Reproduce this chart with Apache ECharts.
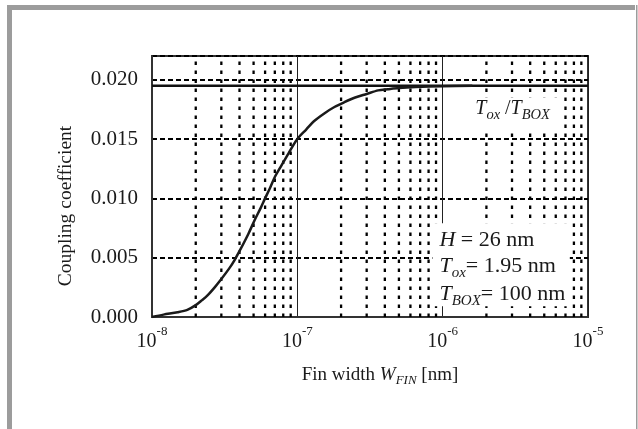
<!DOCTYPE html>
<html>
<head>
<meta charset="utf-8">
<script src="https://cdn.jsdelivr.net/npm/echarts@6/dist/echarts.min.js"></script>
<style>
  html, body { margin: 0; padding: 0; background: #fff; }
  #chart { width: 638px; height: 429px; }
</style>
</head>
<body>
<div id="chart"></div>
<script>
// Fin width (m) and the simulated coupling coefficient
const finWidth = [
  1e-8, 1.2e-8, 1.5e-8, 1.75e-8, 2.0e-8, 2.2e-8, 2.4e-8, 2.7e-8, 3.0e-8, 3.4e-8,
  3.7e-8, 4.1e-8, 4.6e-8, 5.1e-8, 5.6e-8, 6.0e-8, 6.5e-8, 7.0e-8, 7.8e-8, 8.7e-8,
  1.0e-7, 1.15e-7, 1.3e-7, 1.55e-7, 1.8e-7, 2.1e-7, 2.5e-7, 3.0e-7, 3.6e-7, 4.2e-7,
  5.0e-7, 6.5e-7, 1.0e-6, 1.6e-6
];
const coupling = [
  0.0000, 0.0002, 0.0004, 0.0006, 0.0010, 0.0014, 0.0018, 0.0025, 0.0032, 0.0041,
  0.0048, 0.0058, 0.0070, 0.0082, 0.0092, 0.0100, 0.0109, 0.0118, 0.0128, 0.0138,
  0.0150, 0.0158, 0.0165, 0.0172, 0.0177, 0.0181, 0.0185, 0.0188, 0.0191, 0.0192,
  0.0193, 0.01938, 0.01945, 0.0195
];
// Asymptote Tox / TBOX = 1.95 nm / 100 nm
const ratioLevel = 0.0195;
const xRange = [1e-8, 1e-5];
const yRange = [0, 0.022];
const yStep = 0.005;
const decadeStarts = [1e-8, 1e-7, 1e-6];
const minorSteps = [2, 3, 4, 5, 6, 7, 8, 9];
const annotLines = ['{i|H}{n| = 26 nm}', '{i|T}{s|ox}{n|= 1.95 nm}', '{i|T}{s|BOX}{n|= 100 nm}'];

const FONT = '"Liberation Serif", "Times New Roman", serif';
const INK = '#1a1a1a';

const chart = echarts.init(document.getElementById('chart'), null, { renderer: 'canvas' });

// dotted vertical grid at 2..9 x 10^n
const minorGridSeries = [];
decadeStarts.forEach(d => {
  minorSteps.forEach(k => {
    const x = k * d;
    minorGridSeries.push({
      type: 'line',
      data: [[x, yRange[0]], [x, yRange[1]]],
      symbol: 'none',
      silent: true,
      z: 1,
      lineStyle: { color: '#000', width: 2.3, type: [3.5, 5.5] }
    });
  });
});

const curve = finWidth.map((w, i) => [w, coupling[i]]);

chart.setOption({
  animation: false,
  backgroundColor: '#fff',
  grid: {
    left: 152, right: 50, top: 56, bottom: 112,
    show: true, borderColor: '#333', borderWidth: 2, backgroundColor: 'transparent'
  },
  xAxis: {
    type: 'log', logBase: 10, min: xRange[0], max: xRange[1],
    axisLine: { show: true, lineStyle: { color: '#333', width: 2 } },
    axisTick: { show: false },
    splitLine: { show: true, lineStyle: { color: '#222', width: 1, type: 'solid' } },
    axisLabel: {
      margin: 8,
      formatter: v => '{b|10}{p|' + Math.round(Math.log10(v)) + '}',
      rich: {
        b: { fontFamily: FONT, fontSize: 20, color: INK },
        p: { fontFamily: FONT, fontSize: 13, color: INK, padding: [0, 0, 20, 0] }
      }
    }
  },
  yAxis: {
    type: 'value', min: yRange[0], max: yRange[1], interval: yStep,
    axisLine: { show: true, lineStyle: { color: '#333', width: 2 } },
    axisTick: { show: false },
    splitLine: { show: true, lineStyle: { color: '#000', width: 2, type: [5, 3] } },
    axisLabel: {
      margin: 14, showMaxLabel: false,
      fontFamily: FONT, fontSize: 21, color: INK,
      formatter: v => v.toFixed(3)
    }
  },
  series: minorGridSeries.concat([
    {
      name: 'Tox/TBOX', type: 'line', symbol: 'none', silent: true, z: 3,
      data: [[xRange[0], ratioLevel], [xRange[1], ratioLevel]],
      lineStyle: { color: '#111', width: 2.5 }
    },
    {
      name: 'coupling', type: 'line', symbol: 'none', silent: true, z: 4,
      smooth: 0.3,
      data: curve,
      lineStyle: { color: '#1a1a1a', width: 2.5 }
    }
  ])
});

// annotation panels placed from data-space anchors
const px = (x, y) => chart.convertToPixel({ gridIndex: 0 }, [x, y]);
const paramTL = px(8.5e-7, 0.0079);
const paramBR = px(7.5e-6, 0.0009);
const ratioTL = px(1.5e-6, 0.0185);
const ratioBR = px(6.5e-6, 0.0159);

const panelRich = {
  n: { fontFamily: FONT, fontSize: 22, fill: INK, lineHeight: 25 },
  i: { fontFamily: FONT, fontSize: 22, fontStyle: 'italic', fill: INK, lineHeight: 25 },
  s: { fontFamily: FONT, fontSize: 15, fontStyle: 'italic', fill: INK, padding: [13, 0, 0, 0] }
};
const ratioRich = {
  n: { fontFamily: FONT, fontSize: 20, fill: INK, lineHeight: 24 },
  i: { fontFamily: FONT, fontSize: 20, fontStyle: 'italic', fill: INK, lineHeight: 24 },
  s: { fontFamily: FONT, fontSize: 14.5, fontStyle: 'italic', fill: INK, padding: [13, 0, 0, 0] }
};

const graphics = [
  // page frame
  { type: 'rect', shape: { x: 7, y: 5, width: 5, height: 424 }, style: { fill: '#9c9c9c' }, z: 200 },
  { type: 'rect', shape: { x: 7, y: 5, width: 628, height: 5 }, style: { fill: '#9c9c9c' }, z: 200 },
  { type: 'rect', shape: { x: 636, y: 5, width: 1.5, height: 424 }, style: { fill: '#9c9c9c' }, z: 200 },
  // parameter panel
  {
    type: 'rect',
    shape: { x: paramTL[0], y: paramTL[1], width: paramBR[0] - paramTL[0], height: paramBR[1] - paramTL[1] },
    style: { fill: '#fff' }, z: 100
  },
  {
    type: 'text', x: paramTL[0] + 7, y: paramTL[1] + 4, z: 101,
    style: {
      text: annotLines.join('\n'),
      rich: panelRich, fill: INK, font: '22px ' + FONT,
      textAlign: 'left', textVerticalAlign: 'top'
    }
  },
  // asymptote label
  {
    type: 'rect',
    shape: { x: ratioTL[0], y: ratioTL[1], width: ratioBR[0] - ratioTL[0], height: ratioBR[1] - ratioTL[1] },
    style: { fill: '#fff' }, z: 100
  },
  {
    type: 'text', x: ratioTL[0] + 7, y: ratioTL[1] + 11, z: 101,
    style: {
      text: '{i|T}{s|ox}{n| /}{i|T}{s|BOX}',
      rich: ratioRich, fill: INK, font: '20px ' + FONT,
      textAlign: 'left', textVerticalAlign: 'middle'
    }
  },
  // axis titles
  {
    type: 'text', x: 380, y: 375, z: 101,
    style: {
      text: '{n|Fin width }{i|W}{s|FIN}{n| [nm]}',
      rich: {
        n: { fontFamily: FONT, fontSize: 19, fill: INK, lineHeight: 24 },
        i: { fontFamily: FONT, fontSize: 19, fontStyle: 'italic', fill: INK, lineHeight: 24 },
        s: { fontFamily: FONT, fontSize: 13, fontStyle: 'italic', fill: INK, padding: [12, 0, 0, 0] }
      },
      fill: INK, font: '19px ' + FONT,
      textAlign: 'center', textVerticalAlign: 'middle'
    }
  },
  {
    type: 'text', x: 66, y: 206, rotation: Math.PI / 2, z: 101,
    style: {
      text: 'Coupling coefficient', fill: INK, font: '19.5px ' + FONT,
      textAlign: 'center', textVerticalAlign: 'middle'
    }
  }
];

chart.setOption({ graphic: graphics });
</script>
</body>
</html>
